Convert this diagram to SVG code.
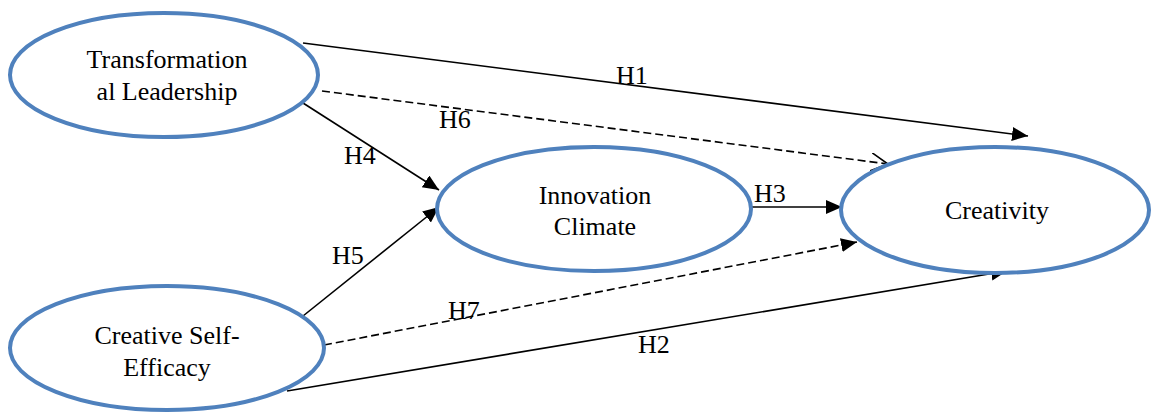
<svg xmlns="http://www.w3.org/2000/svg" width="1151" height="412" viewBox="0 0 1151 412">
  <style>
    .node { fill: #ffffff; stroke: #4f81bd; stroke-width: 4; }
    .txt { font-family: 'Liberation Serif', Tinos, 'Times New Roman', 'DejaVu Serif', serif; font-size: 26px; fill: #000000; text-anchor: middle; }
    .lbl { font-family: 'Liberation Serif', Tinos, 'Times New Roman', 'DejaVu Serif', serif; font-size: 26px; fill: #000000; }
    .edge { stroke: #000000; stroke-width: 1.6; fill: none; }
    .dash { stroke-dasharray: 8 4; }
  </style>
  <defs>
    <marker id="arrow" markerUnits="userSpaceOnUse" markerWidth="18" markerHeight="16" refX="16" refY="7" orient="auto">
      <path d="M0,0 L16,7 L0,14 Z" fill="#000000"/>
    </marker>
    <marker id="open" markerUnits="userSpaceOnUse" markerWidth="20" markerHeight="20" refX="17" refY="9" orient="auto">
      <path d="M0,0 L17,9 L0,18" fill="none" stroke="#000000" stroke-width="1.6" stroke-dasharray="none"/>
    </marker>
  </defs>

  <rect width="1151" height="412" fill="#ffffff"/>

  <!-- paths between constructs -->
  <g id="connectors">
    <line class="edge" x1="303" y1="43" x2="1028" y2="136" marker-end="url(#arrow)"/>
    <line class="edge dash" x1="322" y1="91" x2="888" y2="164" marker-end="url(#open)"/>
    <line class="edge" x1="303" y1="103" x2="439" y2="190" marker-end="url(#arrow)"/>
    <line class="edge" x1="303" y1="316" x2="439" y2="207" marker-end="url(#arrow)"/>
    <line class="edge" x1="752" y1="207" x2="842" y2="207" marker-end="url(#arrow)"/>
    <line class="edge dash" x1="324" y1="345" x2="857" y2="242" marker-end="url(#arrow)"/>
    <line class="edge" x1="287" y1="391" x2="1007" y2="271" marker-end="url(#arrow)"/>
    <text class="lbl" x="616" y="84">H1</text>
    <text class="lbl" x="439" y="128">H6</text>
    <text class="lbl" x="344" y="164">H4</text>
    <text class="lbl" x="754" y="202">H3</text>
    <text class="lbl" x="332" y="264">H5</text>
    <text class="lbl" x="448" y="319">H7</text>
    <text class="lbl" x="638" y="353">H2</text>
  </g>

  <g id="transformational-leadership">
    <ellipse class="node" cx="164" cy="75" rx="154" ry="62"/>
    <text class="txt" x="167" y="68">Transformation</text>
    <text class="txt" x="167" y="100">al Leadership</text>
  </g>

  <g id="innovation-climate">
    <ellipse class="node" cx="594" cy="209" rx="157" ry="62"/>
    <text class="txt" x="595" y="204">Innovation</text>
    <text class="txt" x="595" y="235">Climate</text>
  </g>

  <g id="creativity">
    <ellipse class="node" cx="995" cy="210" rx="154" ry="63"/>
    <text class="txt" x="997" y="219">Creativity</text>
  </g>

  <g id="creative-self-efficacy">
    <ellipse class="node" cx="167" cy="348" rx="157" ry="62"/>
    <text class="txt" x="167" y="344">Creative Self-</text>
    <text class="txt" x="167" y="376">Efficacy</text>
  </g>
</svg>
